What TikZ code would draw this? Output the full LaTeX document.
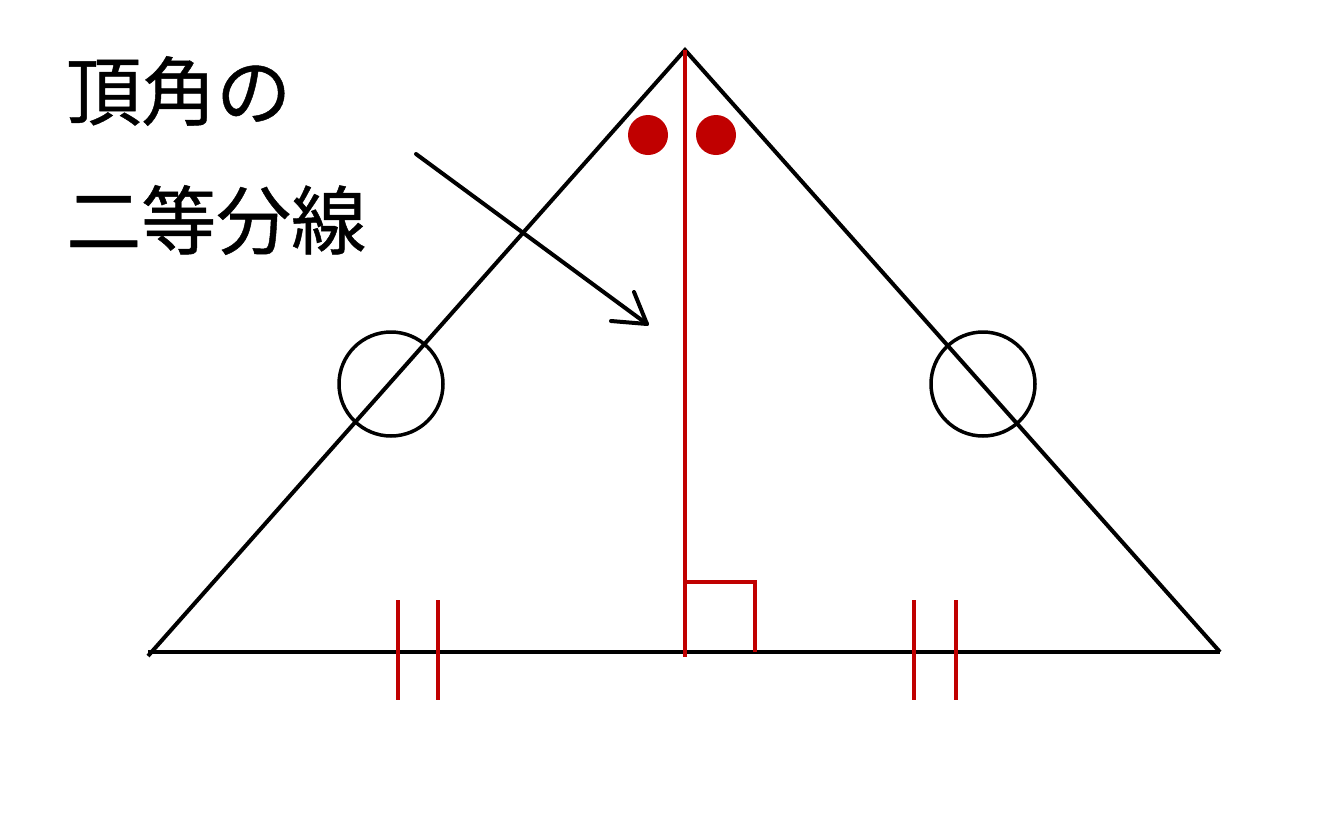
\documentclass[tikz,border=0pt]{standalone}
\usepackage{fontspec}
\newfontfamily\cjk[FakeBold=0.6]{Noto Sans CJK JP}
\definecolor{myred}{RGB}{192,0,0}
\begin{document}
\begin{tikzpicture}[x=1pt,y=-1pt,
  blk/.style={line width=4pt,black},
  redl/.style={line width=4pt,myred},
  lbl/.style={anchor=west,inner sep=0pt,font=\cjk\fontsize{75}{90}\selectfont}]
\useasboundingbox (0,0) rectangle (1333,833);
\coordinate (A) at (685,50);
\coordinate (B) at (148,656);
\coordinate (C) at (1220,652);
\coordinate (BL) at (148,652);
\coordinate (M) at (685,657);
% triangle
\draw[blk] (B) -- (A) -- (C);
\draw[blk] (BL) -- (C);
% bisector
\draw[redl] (A) -- (M);
\coordinate (R1) at (685,582);
\coordinate (R2) at (755,582);
\coordinate (R3) at (755,652);
\draw[redl] (R1) -- (R2) -- (R3);
% dots
\fill[myred] (648,135) circle (20);
\fill[myred] (716,135) circle (20);
% circles
\draw[blk,line width=3.5pt] (391,384) circle (52);
\draw[blk,line width=3.5pt] (983,384) circle (52);
% ticks
\foreach \x in {398,438,914,956}{
  \draw[redl] (\x,600) -- (\x,700);
}
% arrow
\coordinate (S) at (416,154);
\coordinate (T) at (647,324);
\coordinate (H1) at (611,321);
\coordinate (H2) at (634,292);
\draw[blk,line cap=round] (S) -- (T);
\draw[blk,line cap=round,line join=round] (H1) -- (T) -- (H2);
% labels
\node[lbl] (t1) at (66,91) {頂角の};
\node[lbl] (t2) at (66,220) {二等分線};
\end{tikzpicture}
\end{document}
